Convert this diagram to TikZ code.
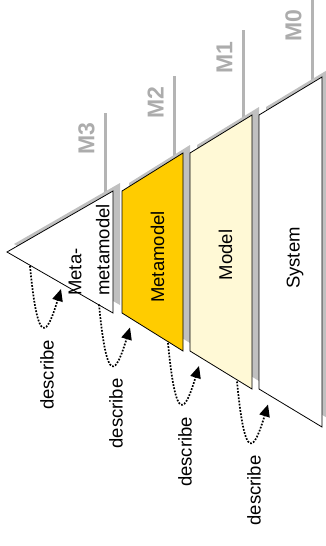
\documentclass[tikz,border=0pt]{standalone}
\usepackage{fontspec}
\setmainfont{Liberation Sans}
\usetikzlibrary{arrows.meta}
\definecolor{shadowgray}{RGB}{192,192,192}
\definecolor{linegray}{RGB}{180,180,180}
\definecolor{labelgray}{RGB}{172,172,172}
\definecolor{metayellow}{RGB}{255,204,0}
\definecolor{modelyellow}{RGB}{255,249,214}
\begin{document}
\begin{tikzpicture}[x=1pt,y=-1pt,
  layer/.style={draw=black,line width=0.8pt,line join=miter},
  shadowpart/.style={fill=shadowgray,draw=none},
  levelline/.style={draw=linegray,line width=3.5pt},
  levellabel/.style={text=labelgray,font=\fontsize{23}{23}\selectfont\bfseries,rotate=90,inner sep=0pt},
  body/.style={font=\fontsize{18.5}{28}\selectfont,rotate=90,inner sep=0pt},
  describelabel/.style={font=\fontsize{18.5}{22}\selectfont,rotate=90,inner sep=0pt},
  describearrow/.style={draw=black,line width=1.7pt,dash pattern=on 1.7pt off 1.5pt,-{Triangle[length=12pt,width=10.5pt]}},
]
\useasboundingbox (0,0) rectangle (326,546);

% level lines
\draw[levelline] (105.5,113) -- (105.5,200);
\draw[levelline] (174.5,76) -- (174.5,160);
\draw[levelline] (243.5,30) -- (243.5,120);
\draw[levelline] (312.5,-5) -- (312.5,85);

% level labels
\node[levellabel] (m3) at (86.5,139) {M3};
\node[levellabel] (m2) at (155.5,103) {M2};
\node[levellabel] (m1) at (224.5,58) {M1};
\node[levellabel] (m0) at (293.5,26) {M0};

% shadows
\begin{scope}[shift={(7,-8)}]
\fill[shadowpart] (7,252) -- (113,191) -- (113,313) -- cycle;
\fill[shadowpart] (122,191) -- (183,153) -- (183,351) -- (122,313) -- cycle;
\fill[shadowpart] (190,153) -- (252,115) -- (252,389) -- (190,351) -- cycle;
\fill[shadowpart] (259,115) -- (322,77) -- (322,427) -- (259,389) -- cycle;
\end{scope}

% layers
\draw[layer,fill=white] (7,252) -- (113,191) -- (113,313) -- cycle;
\draw[layer,fill=metayellow] (122,191) -- (183,153) -- (183,351) -- (122,313) -- cycle;
\draw[layer,fill=modelyellow] (190,153) -- (252,115) -- (252,389) -- (190,351) -- cycle;
\draw[layer,fill=white] (259,115) -- (322,77) -- (322,427) -- (259,389) -- cycle;

% texts
\node[body,align=left] (mmm) at (89,250) {Meta-\\metamodel};
\node[body] (mm) at (157.5,257) {Metamodel};
\node[body] (mod) at (225.5,255) {Model};
\node[body] (sys) at (295,258) {System};

% describe labels
\node[describelabel] (d1) at (47,375) {describe};
\node[describelabel] (d2) at (116,413.5) {describe};
\node[describelabel] (d3) at (185,452) {describe};
\node[describelabel] (d4) at (254,490.5) {describe};

% describe arrows
\coordinate (s1) at (30,266);    \coordinate (t1) at (61,289);
\coordinate (s2) at (99,304.5);  \coordinate (t2) at (130,327.5);
\coordinate (s3) at (168,343);   \coordinate (t3) at (199,366);
\coordinate (s4) at (237,381.5); \coordinate (t4) at (268,404.5);
\draw[describearrow] (s1) .. controls +(8,84) and +(-14,46) .. (t1);
\draw[describearrow] (s2) .. controls +(8,84) and +(-14,46) .. (t2);
\draw[describearrow] (s3) .. controls +(8,84) and +(-14,46) .. (t3);
\draw[describearrow] (s4) .. controls +(8,84) and +(-14,46) .. (t4);
\end{tikzpicture}
\end{document}
